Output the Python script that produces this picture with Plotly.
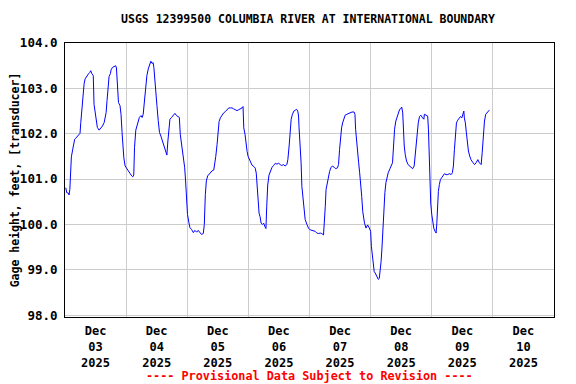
import pandas as pd
import plotly.graph_objects as go

# Hours since 2025-12-03 00:00 and gage height (feet)
start = "2025-12-03 00:00"
hours = [0.3, 0.7, 1.35, 1.6, 1.9, 2.1, 2.5, 3.05, 3.4, 3.8, 4.2, 4.6, 5.0, 5.5, 5.9, 6.2, 6.6, 7.0, 7.5, 7.9,
         8.55, 9.2, 9.7, 10.1, 10.5, 11.1, 11.4, 11.8, 12.2, 12.7, 13.4, 14.05, 14.7, 15.4, 15.75, 16.15, 16.5,
         16.9, 17.3, 17.85, 18.1, 18.6, 19.4, 19.9, 20.2, 20.5, 21.0, 21.6, 22.0, 22.4, 22.7, 23.1, 23.6, 24.3,
         24.9, 25.6, 26.2, 26.6, 27.0, 27.3, 27.8, 28.5, 29.2, 29.8, 30.3, 30.7, 31.1, 31.6, 32.15, 32.7, 33.2,
         33.7, 34.2, 34.6, 34.9, 35.3, 35.7, 36.1, 36.6, 37.1, 37.65, 38.2, 38.7, 39.2, 39.6, 40.0, 40.4, 40.8,
         41.2, 41.85, 42.5, 43.15, 43.8, 44.5, 44.9, 45.25, 45.8, 46.4, 47.0, 47.35, 47.7, 48.1, 48.65, 49.05,
         49.7, 50.4, 51.0, 51.7, 52.3, 53.0, 53.6, 54.3, 54.7, 55.1, 55.5, 56.0, 56.5, 57.1, 57.7, 58.4, 58.8,
         59.2, 59.7, 60.1, 60.5, 61.0, 61.7, 62.3, 63.0, 63.6, 64.3, 65.0, 65.6, 66.2, 66.9, 67.5, 68.2, 68.9,
         69.5, 69.9, 70.2, 70.7, 71.1, 71.5, 71.9, 72.4, 72.8, 73.4, 74.1, 74.7, 75.1, 75.4, 75.8, 76.2, 76.6,
         77.0, 77.5, 78.0, 78.5, 78.9, 79.2, 79.6, 80.1, 80.6, 81.3, 81.9, 82.6, 83.2, 83.9, 84.5, 85.1, 85.8,
         86.4, 87.1, 87.5, 88.0, 88.4, 88.8, 89.3, 89.85, 90.4, 90.9, 91.4, 91.7, 91.9, 92.3, 92.7, 93.0, 93.4,
         93.8, 94.3, 95.0, 95.6, 96.3, 96.9, 97.6, 98.2, 98.9, 99.5, 100.2, 100.8, 101.5, 101.9, 102.2, 102.5,
         103.1, 103.5, 103.9, 104.4, 105.0, 105.7, 106.3, 107.0, 107.4, 107.8, 108.2, 108.6, 109.0, 109.5,
         110.0, 110.7, 111.4, 112.0, 112.7, 113.5, 113.85, 114.1, 114.5, 114.9, 115.3, 115.7, 116.1, 116.5,
         116.9, 117.25, 117.6, 118.2, 118.8, 119.5, 120.0, 120.3, 120.7, 121.0, 121.4, 121.8, 122.4, 123.0,
         123.4, 123.7, 124.1, 124.45, 124.8, 125.2, 125.6, 126.0, 126.4, 126.9, 127.6, 128.2, 128.6, 129.0,
         129.4, 129.9, 130.5, 131.0, 131.4, 131.8, 132.2, 132.6, 132.8, 133.2, 133.6, 134.1, 134.7, 135.2,
         135.8, 136.5, 137.1, 137.5, 137.9, 138.3, 138.7, 139.2, 139.7, 140.4, 140.9, 141.1, 141.8, 142.4,
         142.7, 143.0, 143.2, 143.6, 144.0, 144.4, 144.8, 145.3, 145.7, 146.0, 146.2, 146.6, 147.0, 147.4,
         147.9, 148.45, 148.97, 149.6, 150.3, 150.9, 151.6, 152.1, 152.5, 152.9, 153.3, 153.7, 154.2, 154.7,
         155.3, 155.8, 156.2, 156.6, 156.8, 157.2, 157.6, 158.0, 158.4, 158.9, 159.4, 160.1, 160.8, 161.4,
         162.1, 162.7, 163.4, 163.8, 164.2, 164.7, 165.2, 165.7, 166.25, 166.6]
gage_ft = [100.81, 100.70, 100.69, 100.65, 100.77, 101.02, 101.49, 101.66, 101.78, 101.88, 101.90, 101.93,
           101.95, 101.99, 102.01, 102.25, 102.54, 102.87, 103.10, 103.21, 103.28, 103.32, 103.35, 103.39,
           103.33, 103.28, 102.65, 102.51, 102.29, 102.14, 102.08, 102.12, 102.17, 102.25, 102.36, 102.47,
           102.73, 103.10, 103.26, 103.33, 103.41, 103.46, 103.48, 103.50, 103.45, 103.17, 102.69, 102.62,
           102.43, 102.03, 101.62, 101.47, 101.29, 101.22, 101.18, 101.12, 101.07, 101.05, 101.09, 101.70,
           102.08, 102.25, 102.36, 102.40, 102.36, 102.43, 102.65, 103.06, 103.28, 103.43, 103.54, 103.60,
           103.55, 103.57, 103.46, 103.10, 102.84, 102.62, 102.29, 102.03, 101.95, 101.84, 101.75, 101.66,
           101.59, 101.53, 101.84, 102.17, 102.32, 102.36, 102.40, 102.45, 102.40, 102.37, 102.36, 101.99,
           101.77, 101.47, 101.25, 100.96, 100.59, 100.22, 100.04, 99.93, 99.89, 99.82, 99.87, 99.83, 99.87,
           99.82, 99.78, 99.80, 100.00, 100.66, 100.96, 101.07, 101.11, 101.13, 101.18, 101.20, 101.31,
           101.50, 101.76, 102.05, 102.27, 102.35, 102.42, 102.46, 102.49, 102.53, 102.57, 102.57, 102.57,
           102.55, 102.53, 102.51, 102.53, 102.55, 102.57, 102.60, 102.13, 101.98, 101.76, 101.61, 101.50,
           101.43, 101.39, 101.31, 101.28, 101.24, 101.13, 100.87, 100.39, 100.25, 100.17, 100.03, 100.00,
           100.03, 99.95, 99.91, 100.39, 100.87, 101.09, 101.18, 101.26, 101.30, 101.35, 101.33, 101.35,
           101.32, 101.30, 101.32, 101.29, 101.32, 101.43, 101.73, 102.10, 102.32, 102.43, 102.50, 102.52,
           102.54, 102.50, 102.39, 102.13, 101.80, 101.36, 100.84, 100.55, 100.29, 100.11, 100.00, 99.92,
           99.88, 99.87, 99.85, 99.85, 99.81, 99.80, 99.81, 99.80, 99.77, 100.03, 100.40, 100.77, 100.95,
           101.10, 101.17, 101.25, 101.29, 101.26, 101.23, 101.25, 101.32, 101.65, 101.95, 102.13, 102.24,
           102.35, 102.41, 102.43, 102.45, 102.46, 102.48, 102.48, 102.43, 102.10, 101.80, 101.51, 101.36,
           101.14, 100.92, 100.62, 100.29, 100.14, 100.03, 99.92, 99.99, 99.92, 99.85, 99.52, 99.30, 99.04,
           98.96, 98.93, 98.85, 98.79, 98.81, 98.93, 99.18, 99.48, 99.96, 100.33, 100.70, 100.92, 101.03,
           101.14, 101.23, 101.29, 101.36, 101.73, 102.10, 102.28, 102.39, 102.46, 102.54, 102.55, 102.59,
           102.46, 102.10, 101.73, 101.54, 101.40, 101.32, 101.29, 101.25, 101.23, 101.29, 101.58, 101.87,
           102.10, 102.24, 102.38, 102.41, 102.35, 102.32, 102.43, 102.41, 102.39, 102.10, 101.51, 100.77,
           100.47, 100.22, 100.03, 99.92, 99.85, 99.81, 100.03, 100.47, 100.73, 100.88, 100.99, 101.03,
           101.08, 101.12, 101.10, 101.10, 101.12, 101.10, 101.14, 101.29, 101.65, 102.02, 102.24, 102.30,
           102.33, 102.38, 102.35, 102.43, 102.50, 102.35, 102.24, 102.02, 101.80, 101.62, 101.51, 101.43,
           101.37, 101.32, 101.36, 101.43, 101.36, 101.32, 101.58, 101.99, 102.28, 102.43, 102.46, 102.50,
           102.52]

title_text = "USGS 12399500 COLUMBIA RIVER AT INTERNATIONAL BOUNDARY"
y_title = "Gage height, feet, [transducer]"
note_text = "---- Provisional Data Subject to Revision ----"
x_range = ["2025-12-03 00:00", "2025-12-11 00:00"]
y_range = [97.96, 104.001]

times = pd.Timestamp(start) + pd.to_timedelta(hours, unit="h")

FONT = "DejaVu Sans Mono"
W, H = 568, 376  # page body has an 8px margin; this fills the 576x384 window

fig = go.Figure()
fig.add_trace(go.Scatter(x=times, y=gage_ft, mode="lines",
                         line=dict(color="#0000ff", width=1), showlegend=False,
                         hoverinfo="x+y"))

fig.update_layout(
    width=W, height=H,
    margin=dict(l=57, r=22, t=35, b=67),
    paper_bgcolor="white", plot_bgcolor="white",
    font=dict(family=FONT, size=12, color="black", weight="bold"),
    title=dict(text=title_text, x=300 / W, xanchor="center", y=1 - 11 / H, yanchor="middle",
               xref="container", yref="container",
               font=dict(family=FONT, size=11.5, weight="bold", color="black")),
    annotations=[dict(text=note_text, xref="paper", yref="paper", x=0.5, y=-0.2153,
                      xanchor="center", yanchor="middle", showarrow=False,
                      font=dict(family=FONT, size=11.8, color="#ff0000", weight="bold"))],
)

fig.update_xaxes(
    type="date", range=x_range,
    dtick=86400000, tick0="2025-12-03",
    ticklabelmode="period", tickformat="%b<br>%d<br>%Y",
    showgrid=True, gridcolor="#cccccc", gridwidth=1,
    ticks="outside", ticklen=3, tickcolor="rgba(0,0,0,0)",
    showline=True, linecolor="black", linewidth=1, mirror=True,
    tickfont=dict(family=FONT, size=12, weight="bold"),
    zeroline=False, automargin=False,
)
fig.update_yaxes(
    range=y_range, dtick=1, tick0=98, tickformat=".1f",
    showgrid=True, gridcolor="#cccccc", gridwidth=1,
    ticks="outside", ticklen=4, tickcolor="rgba(0,0,0,0)",
    showline=True, linecolor="black", linewidth=1, mirror=True,
    tickfont=dict(family=FONT, size=12.5, weight="bold"),
    title=dict(text=y_title, standoff=0, font=dict(family=FONT, size=11.5, weight="bold")),
    zeroline=False, automargin=False,
)

fig.write_html("out.html")
